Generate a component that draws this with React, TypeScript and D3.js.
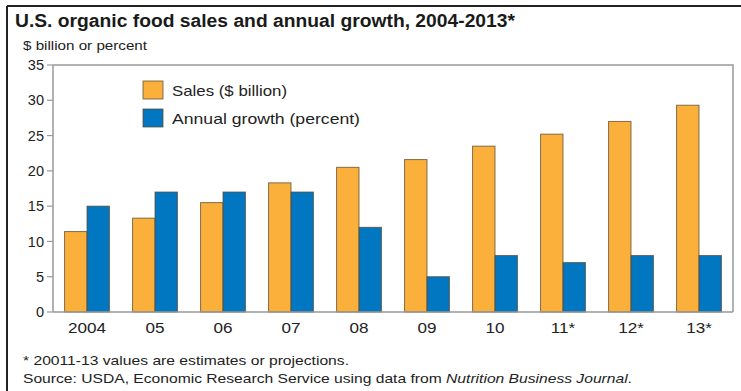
import React from "react";
import * as d3 from "d3";

const categories = ["2004", "05", "06", "07", "08", "09", "10", "11*", "12*", "13*"];
const sales = [11.4, 13.3, 15.5, 18.3, 20.5, 21.6, 23.5, 25.2, 27.0, 29.3];
const growth = [15, 17, 17, 17, 12, 5, 8, 7, 8, 8];
const yTicks = [0, 5, 10, 15, 20, 25, 30, 35];
const seriesNames = ["Sales ($ billion)", "Annual growth (percent)"];
const seriesColors = ["#FBB03B", "#0077C0"];

const W = 741;
const H = 391;
const left = 53;
const right = 733;
const top = 65;
const bottom = 312;
const font = "'Liberation Sans', Arial, Helvetica, sans-serif";
const legendLens = [115, 188];

export default function App() {
  const x = d3.scaleBand<string>().domain(categories).range([left, right]).paddingInner(0.34).paddingOuter(0.17);
  const sub = d3.scaleBand<number>().domain([0, 1]).range([0, x.bandwidth()]);
  const y = d3.scaleLinear().domain([0, 35]).range([bottom, top]);
  const series = [sales, growth];

  return (
    <svg width={W} height={H} style={{ position: "absolute", left: 0, top: 0 }} fontFamily={font}>
      <rect x={0} y={0} width={W} height={H} fill="#fff" />
      <line x1={7} y1={6} x2={W} y2={6} stroke="#222" strokeWidth={2} />
      <line x1={7} y1={6} x2={7} y2={H} stroke="#222" strokeWidth={2} />
      <text x={15} y={27} fontSize={17.5} fontWeight="bold" fill="#1a1a1a" textLength={500} lengthAdjust="spacingAndGlyphs">
        U.S. organic food sales and annual growth, 2004-2013*
      </text>
      <text x={23} y={50} fontSize={13} fill="#222" textLength={124} lengthAdjust="spacingAndGlyphs">$ billion or percent</text>
      {/* plot frame */}
      <path d={`M${left},${top}H${right}V${bottom}`} fill="none" stroke="#999" strokeWidth={1.5} />
      <line x1={left} y1={top} x2={left} y2={bottom} stroke="#999" strokeWidth={1.5} />
      {yTicks.map((t) => (
        <g key={t}>
          <line x1={left - 6} x2={left} y1={y(t)} y2={y(t)} stroke="#999" strokeWidth={1.2} />
          <text x={left - 9} y={y(t)} dy="0.35em" textAnchor="end" fontSize={14.5} fill="#222">{t}</text>
        </g>
      ))}
      {categories.map((c, i) => (
        <g key={c}>
          {series.map((s, k) => (
            <rect
              key={k}
              x={(x(c) as number) + (sub(k) as number)}
              y={y(s[i])}
              width={sub.bandwidth()}
              height={y(0) - y(s[i])}
              fill={seriesColors[k]}
              stroke="#5a4a30"
              strokeOpacity={0.75}
              strokeWidth={1}
            />
          ))}
          <text
            transform={`translate(${(x(c) as number) + x.bandwidth() / 2},333) scale(1.18,1)`}
            textAnchor="middle"
            fontSize={14.5}
            fill="#222"
          >
            {c}
          </text>
        </g>
      ))}
      <line x1={left} x2={right} y1={bottom} y2={bottom} stroke="#999" strokeWidth={1.5} />
      {seriesNames.map((n, k) => (
        <g key={n}>
          <rect x={143} y={81 + k * 28} width={20} height={18} fill={seriesColors[k]} stroke="#5a4a30" strokeOpacity={0.75} strokeWidth={1} />
          <text x={172} y={96 + k * 28} fontSize={15} fill="#222" textLength={legendLens[k]} lengthAdjust="spacingAndGlyphs">{n}</text>
        </g>
      ))}
      <text x={23} y={365} fontSize={13.5} fill="#222" textLength={326} lengthAdjust="spacingAndGlyphs">
        * 20011-13 values are estimates or projections.
      </text>
      <text x={23} y={383} fontSize={13.5} fill="#222" textLength={609} lengthAdjust="spacingAndGlyphs">
        Source: USDA, Economic Research Service using data from <tspan fontStyle="italic">Nutrition Business Journal</tspan>.
      </text>
    </svg>
  );
}
